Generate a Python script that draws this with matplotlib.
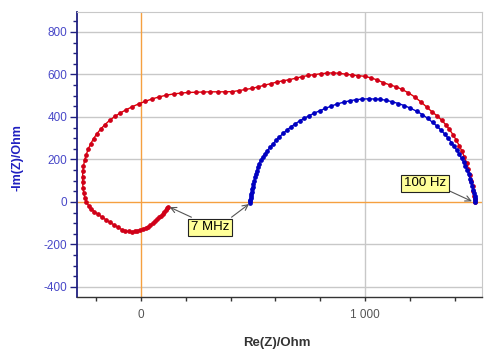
import matplotlib
matplotlib.use("Agg")
import matplotlib.pyplot as plt
import numpy as np

plt.rcParams['font.family'] = ['Liberation Sans', 'DejaVu Sans']

# Red series (from 7 MHz end to 100 Hz end)
red_re = [122, 116, 110, 103, 96, 88, 80, 71, 62, 52, 42, 31, 20, 8, -4, -16, -29, -42, -56, -70,
          -86, -103, -121, -139, -157, -175, -192, -208, -222, -234, -244, -251, -256, -259, -261,
          -261, -260, -257, -252, -245, -236, -225, -212, -197, -180, -161, -140, -117, -92, -66,
          -39, -11, 18, 48, 80, 112, 145, 178, 211, 244, 277, 310, 343, 376, 408, 438, 466, 494,
          522, 550, 578, 606, 634, 662, 690, 718, 746, 774, 802, 830, 858, 886, 914, 942, 970, 998,
          1026, 1054, 1082, 1110, 1138, 1166, 1194, 1222, 1250, 1276, 1300, 1322, 1342, 1360, 1377,
          1393, 1408, 1421, 1433, 1444, 1454, 1462, 1469, 1475, 1480, 1484, 1487, 1489, 1490]
red_im = [-22, -30, -38, -47, -56, -65, -73, -82, -90, -99, -110, -116, -122, -127, -131, -135, -138,
          -140, -139, -136, -130, -120, -108, -96, -84, -71, -58, -46, -34, -18, 0, 20, 42, 66, 92,
          118, 144, 170, 196, 222, 248, 273, 298, 321, 343, 364, 384, 402, 419, 434, 448, 461, 473,
          484, 494, 502, 508, 512, 515, 516, 517, 518, 518, 518, 519, 524, 529, 534, 541, 549, 556,
          564, 570, 575, 582, 589, 595, 599, 603, 606, 607, 605, 601, 597, 594, 591, 584, 574, 561,
          551, 542, 529, 513, 494, 470, 446, 423, 405, 385, 364, 341, 316, 290, 264, 238, 210, 182,
          154, 126, 100, 74, 50, 28, 12, 0]

# Blue series (from 7 MHz end to 100 Hz end)
blue_re = [487, 487, 488, 489, 490, 492, 494, 496, 499, 502, 505, 508, 512, 516, 521, 527, 534, 543,
           553, 564, 576, 589, 603, 618, 634, 651, 669, 688, 708, 729, 751, 774, 798, 823, 849, 876,
           904, 932, 960, 988, 1016, 1044, 1067, 1095, 1122, 1149, 1176, 1203, 1230, 1256, 1280, 1302,
           1322, 1340, 1357, 1372, 1386, 1398, 1410, 1421, 1431, 1440, 1448, 1456, 1463, 1469, 1474,
           1479, 1483, 1486, 1489, 1491, 1492, 1493]
blue_im = [-6, 2, 10, 18, 27, 37, 48, 60, 72, 86, 100, 115, 131, 147, 163, 180, 196, 211, 226, 241,
           257, 273, 290, 306, 322, 338, 353, 367, 381, 394, 406, 418, 429, 440, 451, 461, 469, 476,
           481, 484, 485, 484, 483, 478, 471, 463, 453, 441, 427, 411, 393, 374, 356, 337, 318, 299,
           279, 261, 243, 224, 205, 186, 167, 148, 129, 110, 92, 74, 57, 42, 29, 17, 8, 0]

x_ticks = [-200, 0, 200, 400, 600, 800, 1000, 1200, 1400]
x_tick_labels = ['', '0', '', '', '', '', '1 000', '', '']
y_ticks = [-400, -200, 0, 200, 400, 600, 800]
y_tick_labels = ['-400', '-200', '0', '200', '400', '600', '800']

fig = plt.figure(figsize=(4.95, 3.62), dpi=100)
ax = fig.add_axes([77 / 495, 1 - 296.7 / 362, 404.7 / 495, 285 / 362])
ax.set_xlim(-286, 1521)
ax.set_ylim(-446, 895)

# grid lines
for yv in [-400, -200, 200, 400, 600, 800]:
    ax.axhline(yv, color='#c8c8c8', lw=1, zorder=1)
ax.axvline(1000, color='#c8c8c8', lw=1, zorder=1)
ax.axhline(0, color='#f5a040', lw=1, zorder=1.5)
ax.axvline(0, color='#f5a040', lw=1, zorder=1.5)

ax.plot(red_re, red_im, color='#e00000', lw=1, marker='o', ms=2.4, mec='#d00018', mfc='#d00018', zorder=3)
ax.plot(blue_re, blue_im, color='#0000d0', lw=1, marker='o', ms=2.4, mec='#0000c0', mfc='#0000c0', zorder=4)

# annotations
box = dict(boxstyle='square,pad=0.2', fc='#ffff99', ec='#222222', lw=0.8)
arrow = dict(arrowstyle='->', color='#555555', lw=0.8, shrinkA=0, shrinkB=1)
ax.text(308, -120, '7 MHz', ha='center', va='center', fontsize=9.5, bbox=box, zorder=6)
ax.annotate('', xy=(red_re[0], red_im[0]), xytext=(225, -72), arrowprops=arrow, zorder=5)
ax.annotate('', xy=(blue_re[0], blue_im[0]), xytext=(404, -72), arrowprops=arrow, zorder=5)
ax.text(1268, 88, '100 Hz', ha='center', va='center', fontsize=9.5, bbox=box, zorder=6)
ax.annotate('', xy=(blue_re[-1] - 10, blue_im[-1]), xytext=(1370, 55), arrowprops=arrow, zorder=5)

# ticks
ax.set_xticks(x_ticks)
ax.set_xticklabels(x_tick_labels)
ax.set_yticks(y_ticks)
ax.set_yticklabels(y_tick_labels)
ax.set_yticks(np.arange(-400, 900, 50), minor=True)
ax.tick_params(axis='y', which='major', length=5, width=1, color='#202080', labelcolor='#4848c8',
               labelsize=8.5, pad=2)
ax.tick_params(axis='y', which='minor', length=3, width=1, color='#202080')
ax.tick_params(axis='x', which='major', length=3, width=1, color='#333333', labelcolor='#555555',
               labelsize=8.5, pad=6)

for s in ['top', 'right']:
    ax.spines[s].set_color('#c8c8c8')
ax.spines['left'].set_color('#202080')
ax.spines['left'].set_linewidth(1.3)
ax.spines['bottom'].set_color('#333333')
ax.spines['bottom'].set_linewidth(1.0)

fig.text(17 / 495, 1 - 158 / 362, '-Im(Z)/Ohm', rotation=90, ha='center', va='center',
         color='#2020c0', fontsize=9, fontweight='bold')
fig.text(277 / 495, 1 - 343 / 362, 'Re(Z)/Ohm', ha='center', va='center',
         color='#333333', fontsize=9.5, fontweight='bold')

fig.savefig('out.png', dpi=100)
